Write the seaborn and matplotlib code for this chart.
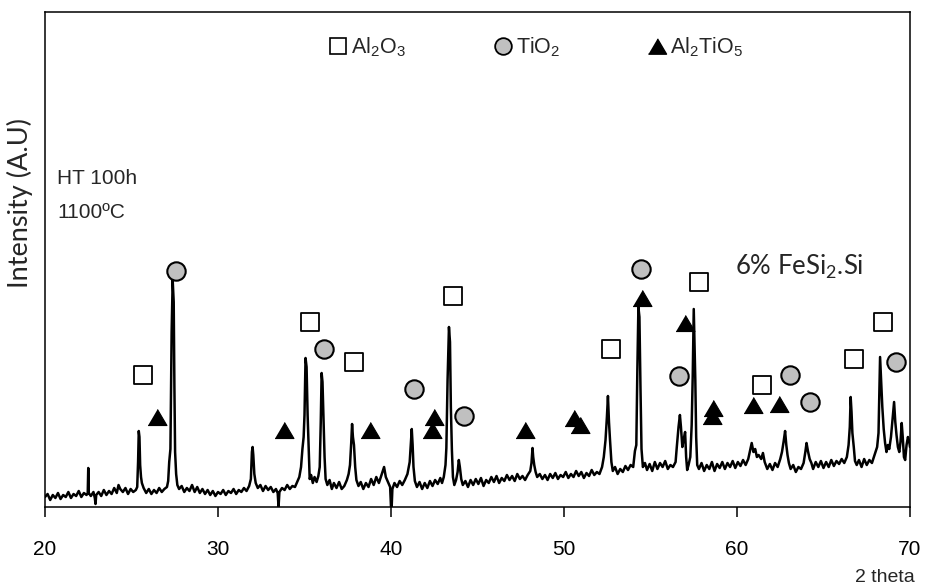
import matplotlib
matplotlib.use("Agg")
import matplotlib.pyplot as plt
import seaborn as sns
import pandas as pd
from matplotlib.lines import Line2D

# ---------------- data (2 theta, intensity in arbitrary units) ----------------
seg_20_27 = [(20.00,10),(20.15,13),(20.30,7),(20.45,12),(20.60,9),(20.75,14),(20.90,8),(21.05,12),
    (21.20,10),(21.35,15),(21.50,9),(21.65,13),(21.80,11),(21.95,16),(22.10,10),(22.25,14),(22.40,12),
    (22.47,14),(22.50,39),(22.53,14),(22.65,11),(22.80,15),(22.88,9),(22.92,3),(22.96,12),(23.10,15),
    (23.25,11),(23.40,17),(23.55,12),(23.70,16),(23.85,13),(24.00,19),(24.15,14),(24.25,22),(24.35,18),
    (24.50,15),(24.65,19),(24.80,13),(24.95,18),(25.10,15),(25.25,17),(25.33,20),(25.38,45),(25.42,76),
    (25.46,70),(25.50,42),(25.55,30),(25.60,24),(25.70,19),(25.85,14),(26.00,18),(26.15,13),(26.30,17),
    (26.45,14),(26.60,19),(26.75,15),(26.90,18),(27.05,20)]
seg_27_35 = [(27.12,26),(27.18,45),(27.25,58),(27.32,175),(27.38,227),(27.44,205),(27.48,120),(27.52,55),
    (27.58,33),(27.65,22),(27.75,18),(27.90,21),(28.05,15),(28.20,19),(28.35,16),(28.50,22),(28.65,15),
    (28.80,20),(28.95,14),(29.10,18),(29.25,13),(29.40,17),(29.55,12),(29.70,16),(29.85,11),(30.00,15),
    (30.15,13),(30.30,17),(30.45,12),(30.60,16),(30.75,14),(30.90,18),(31.05,13),(31.20,17),(31.35,15),
    (31.50,19),(31.65,16),(31.80,21),(31.90,28),(31.96,55),(32.00,60),(32.04,52),(32.10,33),(32.18,24),
    (32.30,19),(32.45,22),(32.60,16),(32.75,21),(32.90,17),(33.05,20),(33.20,15),(33.35,18),(33.45,14),
    (33.50,0),(33.55,15),(33.70,19),(33.85,17),(34.00,22),(34.15,18),(34.30,21),(34.45,20),(34.60,26),
    (34.70,30)]
seg_35_43 = [(34.80,40),(34.88,58),(34.95,70),(35.00,92),(35.06,149),(35.12,140),(35.18,92),(35.24,60),
    (35.30,28),(35.38,32),(35.48,24),(35.58,30),(35.70,25),(35.80,31),(35.88,40),(35.94,85),(35.99,134),
    (36.04,125),(36.10,88),(36.16,50),(36.22,28),(36.32,22),(36.45,27),(36.58,18),(36.70,24),(36.85,19),
    (37.00,25),(37.15,18),(37.30,21),(37.45,27),(37.55,33),(37.63,42),(37.70,64),(37.75,83),(37.80,70),
    (37.86,62),(37.93,40),(38.00,27),(38.12,21),(38.25,25),(38.40,18),(38.55,24),(38.70,20),(38.85,28),
    (39.00,22),(39.15,30),(39.30,24),(39.45,32),(39.60,40),(39.70,30),(39.85,24),(39.95,20),(40.02,-8),
    (40.08,18),(40.20,24),(40.35,20),(40.50,26),(40.65,22),(40.80,27),(40.95,33),(41.08,45),(41.14,62),
    (41.20,78),(41.25,62),(41.30,40),(41.38,26),(41.50,20),(41.65,25),(41.80,18),(41.95,24),(42.10,19),
    (42.25,26),(42.40,21),(42.55,27),(42.70,23),(42.85,29),(42.95,24),(43.05,30),(43.15,42)]
seg_43_52 = [(43.20,59),(43.27,127),(43.35,180),(43.41,165),(43.46,100),(43.52,57),(43.58,30),(43.66,22),
    (43.76,27),(43.85,35),(43.92,47),(43.98,40),(44.06,28),(44.15,22),(44.30,26),(44.45,20),(44.60,27),
    (44.75,22),(44.90,28),(45.05,23),(45.20,29),(45.35,21),(45.50,27),(45.65,24),(45.80,30),(45.95,25),
    (46.10,31),(46.25,24),(46.40,29),(46.55,26),(46.70,32),(46.85,27),(47.00,31),(47.15,26),(47.30,33),
    (47.45,28),(47.60,31),(47.75,27),(47.90,32),(48.05,36),(48.12,44),(48.18,59),(48.22,50),(48.28,42),
    (48.36,35),(48.45,30),(48.60,33),(48.75,28),(48.90,32),(49.05,27),(49.20,33),(49.35,29),(49.50,34),
    (49.65,28),(49.80,32),(49.95,30),(50.10,35),(50.25,29),(50.40,33),(50.55,30),(50.70,36),(50.85,31),
    (51.00,35),(51.15,29),(51.30,34),(51.45,31),(51.60,37),(51.75,32),(51.90,35),(52.05,33),(52.20,40)]
seg_52_61 = [(52.30,50),(52.40,67),(52.48,90),(52.54,111),(52.60,85),(52.66,67),(52.74,45),(52.82,36),
    (52.95,40),(53.10,33),(53.25,38),(53.40,35),(53.55,41),(53.70,37),(53.85,42),(54.00,40),(54.10,56),
    (54.18,62),(54.24,137),(54.30,200),(54.36,190),(54.42,120),(54.48,58),(54.56,40),(54.68,44),(54.80,37),
    (54.95,43),(55.10,36),(55.25,45),(55.40,38),(55.55,44),(55.70,40),(55.85,46),(56.00,38),(56.15,42),
    (56.30,40),(56.45,45),(56.52,60),(56.62,80),(56.70,92),(56.76,80),(56.84,60),(56.92,68),(57.00,75),
    (57.06,50),(57.12,37),(57.20,42),(57.30,50),(57.38,82),(57.44,130),(57.50,198),(57.55,160),(57.59,127),
    (57.64,70),(57.70,42),(57.80,38),(57.95,44),(58.10,36),(58.25,42),(58.40,38),(58.55,45),(58.70,36),
    (58.85,43),(59.00,39),(59.15,45),(59.30,38),(59.45,44),(59.60,40),(59.75,46),(59.90,39),(60.05,45),
    (60.20,41),(60.35,47),(60.50,42),(60.65,48),(60.75,56)]
seg_61_70 = [(60.85,64),(60.95,55),(61.05,58),(61.15,50),(61.25,52),(61.40,48),(61.50,54),(61.60,45),
    (61.75,38),(61.90,43),(62.05,37),(62.20,44),(62.35,40),(62.50,48),(62.60,55),(62.70,66),(62.78,76),
    (62.85,62),(62.92,52),(63.00,44),(63.10,38),(63.25,42),(63.40,35),(63.55,40),(63.70,38),(63.85,44),
    (63.95,55),(64.02,64),(64.10,56),(64.20,48),(64.30,44),(64.40,38),(64.55,45),(64.70,40),(64.85,46),
    (65.00,39),(65.15,45),(65.30,40),(65.45,47),(65.60,41),(65.75,46),(65.90,43),(66.05,48),(66.20,44),
    (66.35,50),(66.45,62),(66.52,80),(66.57,110),(66.62,95),(66.67,74),(66.75,60),(66.82,46),(66.92,42),
    (67.05,47),(67.20,40),(67.35,48),(67.50,42),(67.65,47),(67.80,44),(67.95,52),(68.10,60),(68.18,74),
    (68.27,150),(68.33,128),(68.40,100),(68.48,78),(68.56,64),(68.64,55),(68.72,62),(68.80,58),(68.90,70),
    (69.00,90),(69.08,105),(69.15,85),(69.22,72),(69.30,60),(69.38,55),(69.45,65),(69.52,84),(69.58,70),
    (69.65,50),(69.72,47),(69.80,62),(69.88,70),(69.95,66),(70.00,60)]

# phase markers (2 theta, height)
al2o3_theta = [25.65, 35.34, 37.84, 43.58, 52.70, 57.80, 61.46, 66.75, 68.44]
al2o3_int   = [132, 185, 145, 211, 158, 225, 122, 148, 185]
tio2_theta  = [27.55, 36.11, 41.31, 44.20, 54.43, 56.66, 63.06, 64.22, 69.17]
tio2_int    = [236, 158, 118, 91, 238, 131, 132, 105, 145]
al2tio5_theta = [26.49, 33.80, 38.77, 42.50, 42.37, 47.73, 50.60, 50.92, 54.53, 56.99, 58.63, 58.57, 60.91, 62.45]
al2tio5_int   = [90, 77, 77, 90, 77, 77, 89, 82, 209, 184, 99, 91, 102, 103]

x_ticks = [20, 30, 40, 50, 60, 70]
phase_labels = [r'Al$_\mathregular{2}$O$_\mathregular{3}$', r'TiO$_\mathregular{2}$',
                r'Al$_\mathregular{2}$TiO$_\mathregular{5}$']

# ---------------- plotting ----------------
sns.set_style("white")
plt.rcParams['font.family'] = ['Liberation Sans', 'DejaVu Sans']
plt.rcParams['mathtext.fontset'] = 'custom'
plt.rcParams['mathtext.rm'] = 'Liberation Sans'

pattern = pd.DataFrame(seg_20_27 + seg_27_35 + seg_35_43 + seg_43_52 + seg_52_61 + seg_61_70,
                       columns=['two_theta', 'intensity'])

fig = plt.figure(figsize=(9.28, 5.86), dpi=100)
ax = fig.add_axes([45/928, 1-507/586, (910-45)/928, (507-12)/586])

sns.lineplot(data=pattern, x='two_theta', y='intensity', ax=ax, color='black', lw=1.8,
             estimator=None, sort=False, zorder=2)

tri = [(-1, -0.85), (1, -0.85), (0, 0.85)]
sns.scatterplot(x=al2o3_theta, y=al2o3_int, ax=ax, marker='s', s=150, color='white',
                edgecolor='black', linewidth=1.3, zorder=4)
sns.scatterplot(x=tio2_theta, y=tio2_int, ax=ax, marker='o', s=175, color='#c0c0c0',
                edgecolor='black', linewidth=1.5, zorder=4)
sns.scatterplot(x=al2tio5_theta, y=al2tio5_int, ax=ax, marker=tri, s=185, color='black',
                edgecolor='black', linewidth=0.8, zorder=4)

ax.set_xlim(20, 70)
ax.set_ylim(0, 495)
ax.set_xticks(x_ticks)
ax.set_yticks([])
ax.set_xlabel('')
ax.set_ylabel('')
ax.tick_params(axis='x', direction='out', length=7, width=1.1, pad=17, labelsize=15,
               bottom=True, colors='black')
for sp in ax.spines.values():
    sp.set_color('black')
    sp.set_linewidth(1.1)

handles = [
    Line2D([], [], ls='', marker='s', ms=11.5, mfc='white', mec='black', mew=1.2),
    Line2D([], [], ls='', marker='o', ms=12, mfc='#c0c0c0', mec='black', mew=1.3),
    Line2D([], [], ls='', marker=tri, ms=13, mfc='black', mec='black'),
]
ax.legend(handles, phase_labels, loc='center left', ncol=3, frameon=False,
          bbox_to_anchor=(329.5/928, 1-47/586), bbox_transform=fig.transFigure,
          fontsize=15.5, handlelength=0.8, handletextpad=0.2, columnspacing=4.1,
          borderpad=0, borderaxespad=0)

fig.text(57/928, 1-179/586, 'HT 100h', fontsize=15, va='center', ha='left')
fig.text(57/928, 1-212/586, '1100ºC', fontsize=15, va='center', ha='left')
fig.text(735/928, 1-267/586, r'6% FeSi$_\mathregular{2}$.Si', fontsize=18.5, va='center', ha='left',
         family=['Lato', 'DejaVu Sans'])
fig.text(20/928, 1-203/586, 'Intensity (A.U)', fontsize=19.5, rotation=90, va='center', ha='center',
         family=['Lato', 'DejaVu Sans'])
fig.text(915/928, 1-577/586, '2 theta', fontsize=14, va='center', ha='right')

fig.savefig('out.png', dpi=100)
